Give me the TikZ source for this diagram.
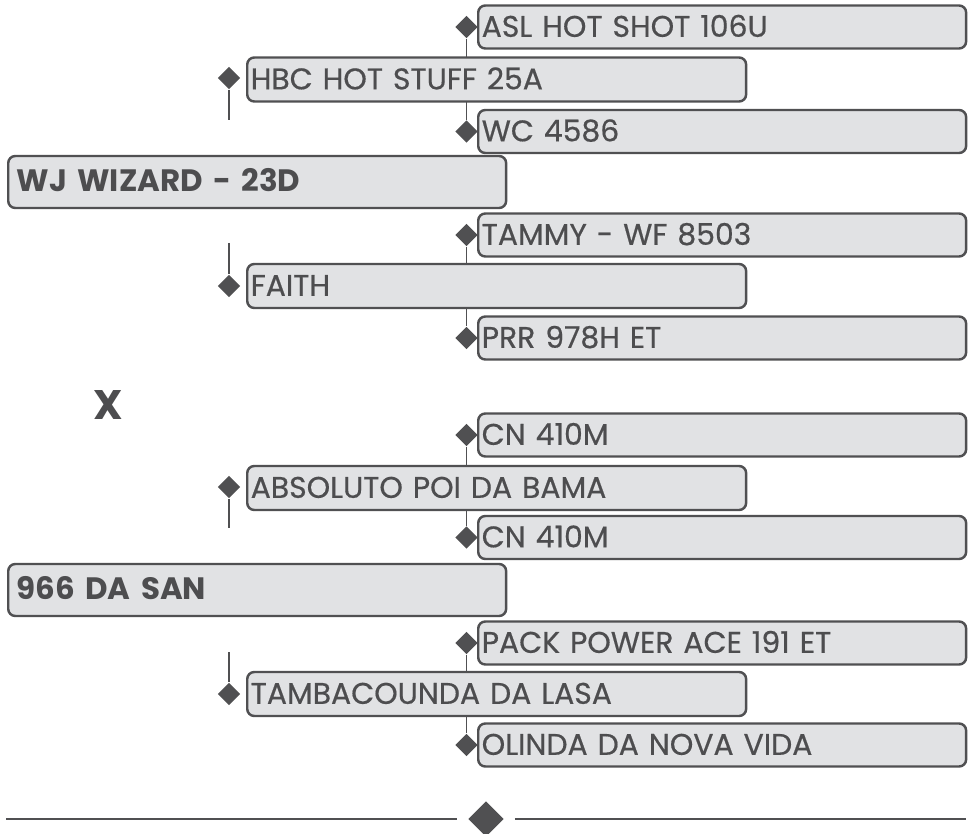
\documentclass[tikz,border=0pt]{standalone}
\usepackage{fontspec}
\setmainfont{Poppins}[UprightFeatures={FakeBold=0.5}]
\usepackage{xcolor}
\usepackage{tikz}
\usetikzlibrary{positioning,shapes.geometric}
\definecolor{pedLine}{HTML}{505052}
\definecolor{pedText}{HTML}{4D4D4F}
\definecolor{pedFill}{HTML}{E1E2E4}

\begin{document}
\begin{tikzpicture}[x=0.02cm, y=-0.02cm, text=pedText, font=\fontsize{17}{20}\selectfont,
  pin/.style={diamond, fill=pedLine, inner sep=0pt, minimum size=0.45cm},
  link/.style={draw=pedLine, line width=1.1pt},
  tag/.style={draw=pedLine, line width=1.4pt, fill=pedFill, rounded corners=4pt, anchor=west, align=left, inner xsep=0.07cm, inner ysep=0pt, text height=1.12em, text depth=0pt},
  gpbox/.style={tag, text width=9.62cm, minimum height=0.86cm},
  parbox/.style={tag, text width=9.84cm, minimum height=0.88cm},
  mainbox/.style={tag, inner xsep=0.17cm, text width=9.62cm, minimum height=1.04cm, font=\fontsize{17.6}{21}\selectfont\bfseries}]
\useasboundingbox (0,0) rectangle (970,834);

% sire side
\node[pin] (asl-pin) at (466.5,27) {};
\node[pin] (wc-pin) at (466.5,131.5) {};
\node[pin] (tammy-pin) at (466.5,235) {};
\node[pin] (prr-pin) at (466.5,338) {};
\node[pin] (hbc-pin) at (229,78) {};
\node[pin] (faith-pin) at (229,286) {};
\coordinate (hbc-end) at (229,120);
\coordinate (faith-end) at (229,243);
\draw[link] (asl-pin) -- (wc-pin);
\draw[link] (tammy-pin) -- (prr-pin);
\draw[link] (hbc-pin) -- (hbc-end);
\draw[link] (faith-end) -- (faith-pin);

\node[gpbox] (asl) at (477,27) {ASL HOT SHOT 106U};
\node[parbox] (hbc) at (246,79.5) {HBC HOT STUFF 25A};
\node[gpbox] (wc) at (477,131.5) {WC 4586};
\node[mainbox] (wj) at (7,182) {WJ WIZARD - 23D};
\node[gpbox] (tammy) at (477,235) {TAMMY - WF 8503};
\node[parbox] (faith) at (246,286) {FAITH};
\node[gpbox] (prr) at (477,338) {PRR 978H ET};

\node[font=\fontsize{23.5}{28}\selectfont\bfseries] (cross) at (108,405) {X};

% dam side
\node[pin] (cna-pin) at (466.5,435) {};
\node[pin] (cnb-pin) at (466.5,537.5) {};
\node[pin] (pack-pin) at (466.5,643) {};
\node[pin] (olinda-pin) at (466.5,745) {};
\node[pin] (abs-pin) at (229,487) {};
\node[pin] (tamba-pin) at (229,694) {};
\coordinate (abs-end) at (229,528);
\coordinate (tamba-end) at (229,652);
\draw[link] (cna-pin) -- (cnb-pin);
\draw[link] (pack-pin) -- (olinda-pin);
\draw[link] (abs-pin) -- (abs-end);
\draw[link] (tamba-end) -- (tamba-pin);

\node[gpbox] (cna) at (477,435) {CN 410M};
\node[parbox] (abs) at (246,488) {ABSOLUTO POI DA BAMA};
\node[gpbox] (cnb) at (477,537.5) {CN 410M};
\node[mainbox] (san) at (7,590) {966 DA SAN};
\node[gpbox] (pack) at (477,643) {PACK POWER ACE 191 ET};
\node[parbox] (tamba) at (246,694) {TAMBACOUNDA DA LASA};
\node[gpbox] (olinda) at (477,745) {OLINDA DA NOVA VIDA};

% divider
\node[pin, minimum size=0.84cm, outer sep=4.5pt] (mark) at (486,819) {};
\coordinate (rule-l) at (6,819);
\coordinate (rule-r) at (966,819);
\draw[draw=pedLine, line width=1.6pt] (rule-l) -- (mark.west);
\draw[draw=pedLine, line width=1.6pt] (mark.east) -- (rule-r);
\end{tikzpicture}
\end{document}
